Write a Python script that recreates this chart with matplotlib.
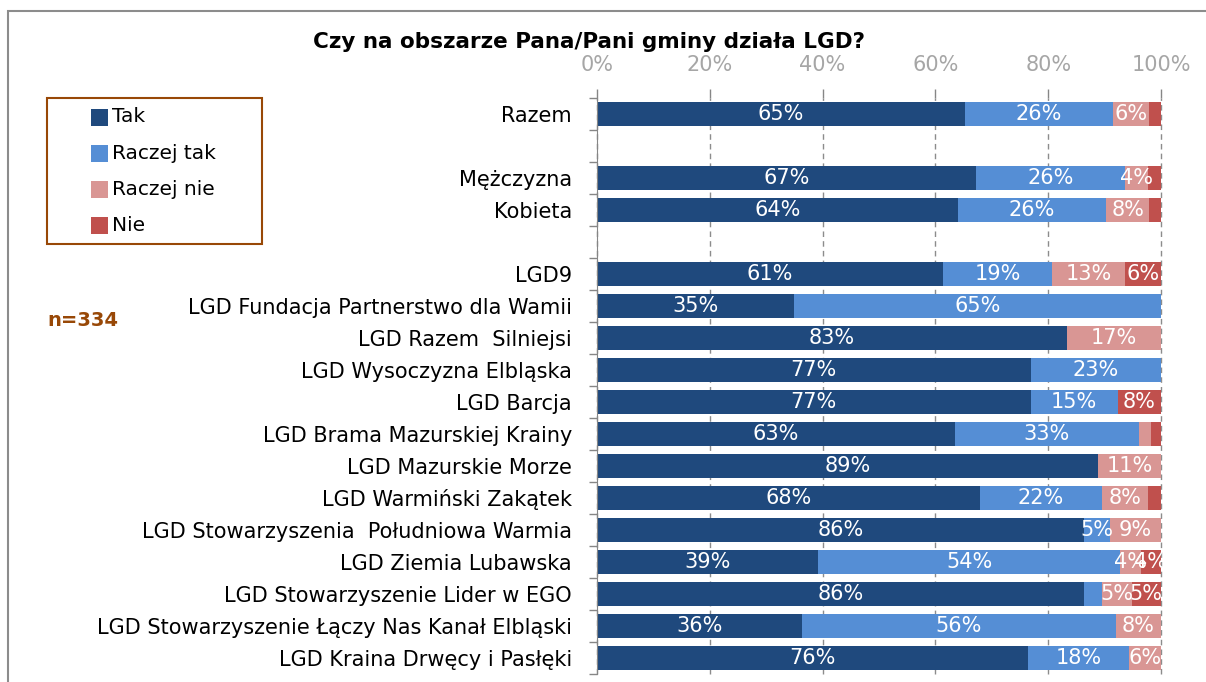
import matplotlib
matplotlib.use("Agg")
import matplotlib.pyplot as plt
from matplotlib.patches import Rectangle
import numpy as np

plt.rcParams['font.family'] = ['DejaVu Sans']

# --------------------------------------
# DATA
# --------------------------------------
title = "Czy na obszarze Pana/Pani gminy działa LGD?"
sample_note = "n=334"

categories = [
    "Razem", "", "Mężczyzna", "Kobieta", "",
    "LGD9",
    "LGD Fundacja Partnerstwo dla Wamii",
    "LGD Razem  Silniejsi",
    "LGD Wysoczyzna Elbląska",
    "LGD Barcja",
    "LGD Brama Mazurskiej Krainy",
    "LGD Mazurskie Morze",
    "LGD Warmiński Zakątek",
    "LGD Stowarzyszenia  Południowa Warmia",
    "LGD Ziemia Lubawska",
    "LGD Stowarzyszenie Lider w EGO",
    "LGD Stowarzyszenie Łączy Nas Kanał Elbląski",
    "LGD Kraina Drwęcy i Pasłęki",
]
series_names = ["Tak", "Raczej tak", "Raczej nie", "Nie"]
tak        = [65.3, 0, 67.2, 64.0, 0, 61.3, 35.0, 83.3, 76.9, 76.9, 63.4, 88.9, 67.9, 86.4, 39.2, 86.4, 36.3, 76.4]
raczej_tak = [26.2, 0, 26.4, 26.3, 0, 19.4, 65.0, 0.0, 23.1, 15.4, 32.7, 0.0, 21.6, 4.6, 53.6, 3.2, 55.7, 17.9]
raczej_nie = [6.4, 0, 4.1, 7.6, 0, 12.9, 0.0, 16.7, 0.0, 0.0, 2.1, 11.1, 8.2, 9.0, 3.6, 5.2, 8.0, 5.7]
nie        = [2.1, 0, 2.3, 2.1, 0, 6.4, 0.0, 0.0, 0.0, 7.7, 1.8, 0.0, 2.3, 0.0, 3.6, 5.2, 0.0, 0.0]
xticks = [0, 20, 40, 60, 80, 100]

colors = ["#1F497D", "#558ED5", "#D99694", "#C0504D"]
brown = "#984807"
W, H = 1206, 682

# --------------------------------------
# FIGURE
# --------------------------------------
fig = plt.figure(figsize=(W / 100, H / 100), dpi=100)
ax = fig.add_axes([597 / W, 1 - 674 / H, (1161 - 597) / W, (674 - 98) / H])

y = np.arange(len(categories))
left = np.zeros(len(categories))
for name, vals, col in zip(series_names, [tak, raczej_tak, raczej_nie, nie], colors):
    vals = np.array(vals)
    ax.barh(y, vals, left=left, height=0.75, color=col, label=name, zorder=2)
    for yi, l, v in zip(y, left, vals):
        if v >= 3.5:
            ax.text(l + v / 2, yi, f"{v:.0f}%", ha="center", va="center",
                    color="white", fontsize=15, zorder=3)
    left += vals

ax.set_xlim(0, 100)
ax.set_ylim(len(categories) - 0.5, -0.5)

# x axis on top
ax.xaxis.tick_top()
ax.set_xticks(xticks)
ax.set_xticklabels([f"{t}%" for t in xticks])
ax.tick_params(axis="x", which="major", direction="out", length=6.5, width=1,
               color="#868686", labelcolor="#A6A6A6", labelsize=15, pad=10)
ax.xaxis.grid(True, linestyle=(0, (4, 3)), color="#8C8C8C", linewidth=1)
for gl in ax.get_xgridlines():
    gl.set_clip_on(False)
ax.set_axisbelow(True)

# y axis
ax.set_yticks(y)
ax.set_yticklabels(categories)
ax.set_yticks(np.arange(len(categories) + 1) - 0.5, minor=True)
ax.tick_params(axis="y", which="major", length=0, labelsize=15, pad=18)
ax.tick_params(axis="y", which="minor", length=5.5, width=1, color="#868686")

for s in ["top", "right", "bottom"]:
    ax.spines[s].set_visible(False)
ax.spines["left"].set_color("#868686")

# title + note
fig.text(589 / W, 1 - 42 / H, title, ha="center", va="center",
         fontsize=15.5, fontweight="bold")
fig.text(83 / W, 1 - 321 / H, sample_note, ha="center", va="center",
         fontsize=14, fontweight="bold", color=brown)

# outer chart frame
fig.patches.append(Rectangle((8 / W, -0.1), 1.2, 1 - 11 / H + 0.1, transform=fig.transFigure,
                             fill=False, edgecolor="#8C8C8C", linewidth=1.5))

# legend box
fig.patches.append(Rectangle((47 / W, 1 - 244 / H), (262 - 47) / W, (244 - 98) / H,
                             transform=fig.transFigure, fill=False, edgecolor=brown,
                             linewidth=1.5))
for i, (name, col) in enumerate(zip(series_names, colors)):
    yc = 117 + i * 36.3
    fig.patches.append(Rectangle((91 / W, 1 - (yc + 8.5) / H), 17 / W, 17 / H,
                                 transform=fig.transFigure, facecolor=col,
                                 edgecolor="none"))
    fig.text(112 / W, 1 - yc / H, name, ha="left", va="center", fontsize=14.5)

fig.savefig("out.png", dpi=100)
